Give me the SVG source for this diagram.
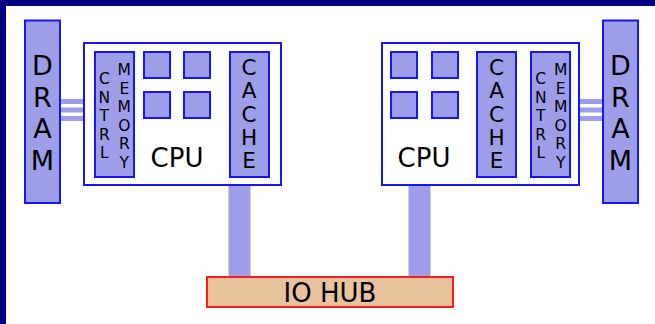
<svg xmlns="http://www.w3.org/2000/svg" width="655" height="324" viewBox="0 0 655 324">
  <style>
    .unit { fill: #9d9de8; stroke: #1414ff; stroke-width: 2; }
    .box { fill: #ffffff; stroke: #1414ff; stroke-width: 2; }
    .hub { fill: #e8c39e; stroke: #ff1a1a; stroke-width: 2; }
    .bus { fill: #9d9de8; stroke: none; }
    .wire { stroke: #9d9de8; stroke-width: 5; fill: none; }
    text { font-family: "DejaVu Sans", "Liberation Sans", sans-serif; fill: #000000; text-anchor: middle; }
    .big { font-size: 27px; }
    .mid { font-size: 26px; }
    .cache { font-size: 21.5px; }
    .small { font-size: 15.5px; }
  </style>

  <!-- page frame -->
  <rect x="0" y="0" width="655" height="324" fill="#ffffff"/>
  <rect x="0" y="0" width="655" height="6" fill="#000080"/>
  <rect x="0" y="0" width="6" height="324" fill="#000080"/>

  <!-- connectors -->
  <g id="connectors">
    <rect class="bus" x="228.5" y="186" width="22" height="91"/>
    <rect class="bus" x="408.5" y="186" width="22" height="91"/>
    <line class="wire" x1="61" y1="101.5" x2="94" y2="101.5"/>
    <line class="wire" x1="61" y1="110" x2="94" y2="110"/>
    <line class="wire" x1="61" y1="118.5" x2="94" y2="118.5"/>
    <line class="wire" x1="571" y1="101.5" x2="602" y2="101.5"/>
    <line class="wire" x1="571" y1="110" x2="602" y2="110"/>
    <line class="wire" x1="571" y1="118.5" x2="602" y2="118.5"/>
  </g>

  <!-- left DRAM -->
  <g id="dram-left">
    <rect class="unit" x="25" y="20.5" width="35" height="182.5"/>
    <text class="big" x="42.5" y="75">D</text>
    <text class="big" x="42.5" y="106.7">R</text>
    <text class="big" x="42.5" y="138.4">A</text>
    <text class="big" x="42.5" y="170">M</text>
  </g>

  <!-- left CPU -->
  <g id="cpu-left">
    <rect class="box" x="84" y="43" width="197" height="142"/>
    <rect class="unit" x="95" y="52" width="39" height="125"/>
    <text class="small" x="104.3" y="84.3">C</text>
    <text class="small" x="104.3" y="102.8">N</text>
    <text class="small" x="104.3" y="121.3">T</text>
    <text class="small" x="104.3" y="139.8">R</text>
    <text class="small" x="104.3" y="158.3">L</text>
    <text class="small" x="124.3" y="75">M</text>
    <text class="small" x="124.3" y="93.5">E</text>
    <text class="small" x="124.3" y="112">M</text>
    <text class="small" x="124.3" y="130.5">O</text>
    <text class="small" x="124.3" y="149">R</text>
    <text class="small" x="124.3" y="167.5">Y</text>
    <rect class="unit" x="144" y="52" width="26" height="26"/>
    <rect class="unit" x="184" y="52" width="26" height="26"/>
    <rect class="unit" x="144" y="92" width="26" height="26"/>
    <rect class="unit" x="184" y="92" width="26" height="26"/>
    <rect class="unit" x="230" y="52" width="39" height="125"/>
    <text class="cache" x="249" y="75">C</text>
    <text class="cache" x="249" y="98.3">A</text>
    <text class="cache" x="249" y="121.5">C</text>
    <text class="cache" x="249" y="144.7">H</text>
    <text class="cache" x="249" y="168">E</text>
    <text class="mid" x="177" y="167">CPU</text>
  </g>

  <!-- right CPU -->
  <g id="cpu-right">
    <rect class="box" x="382" y="43" width="197" height="142"/>
    <rect class="unit" x="391" y="52" width="26" height="26"/>
    <rect class="unit" x="432" y="52" width="26" height="26"/>
    <rect class="unit" x="391" y="92" width="26" height="26"/>
    <rect class="unit" x="432" y="92" width="26" height="26"/>
    <rect class="unit" x="477" y="52" width="39" height="125"/>
    <text class="cache" x="496.5" y="75">C</text>
    <text class="cache" x="496.5" y="98.3">A</text>
    <text class="cache" x="496.5" y="121.5">C</text>
    <text class="cache" x="496.5" y="144.7">H</text>
    <text class="cache" x="496.5" y="168">E</text>
    <rect class="unit" x="531" y="52" width="39" height="125"/>
    <text class="small" x="540.7" y="84.3">C</text>
    <text class="small" x="540.7" y="102.8">N</text>
    <text class="small" x="540.7" y="121.3">T</text>
    <text class="small" x="540.7" y="139.8">R</text>
    <text class="small" x="540.7" y="158.3">L</text>
    <text class="small" x="560.7" y="75">M</text>
    <text class="small" x="560.7" y="93.5">E</text>
    <text class="small" x="560.7" y="112">M</text>
    <text class="small" x="560.7" y="130.5">O</text>
    <text class="small" x="560.7" y="149">R</text>
    <text class="small" x="560.7" y="167.5">Y</text>
    <text class="mid" x="424" y="167">CPU</text>
  </g>

  <!-- right DRAM -->
  <g id="dram-right">
    <rect class="unit" x="603" y="20.5" width="35" height="182.5"/>
    <text class="big" x="620.5" y="75">D</text>
    <text class="big" x="620.5" y="106.7">R</text>
    <text class="big" x="620.5" y="138.4">A</text>
    <text class="big" x="620.5" y="170">M</text>
  </g>

  <!-- IO hub -->
  <g id="io-hub">
    <rect class="hub" x="207" y="277" width="246" height="30"/>
    <text class="mid" x="330" y="302">IO HUB</text>
  </g>
</svg>
